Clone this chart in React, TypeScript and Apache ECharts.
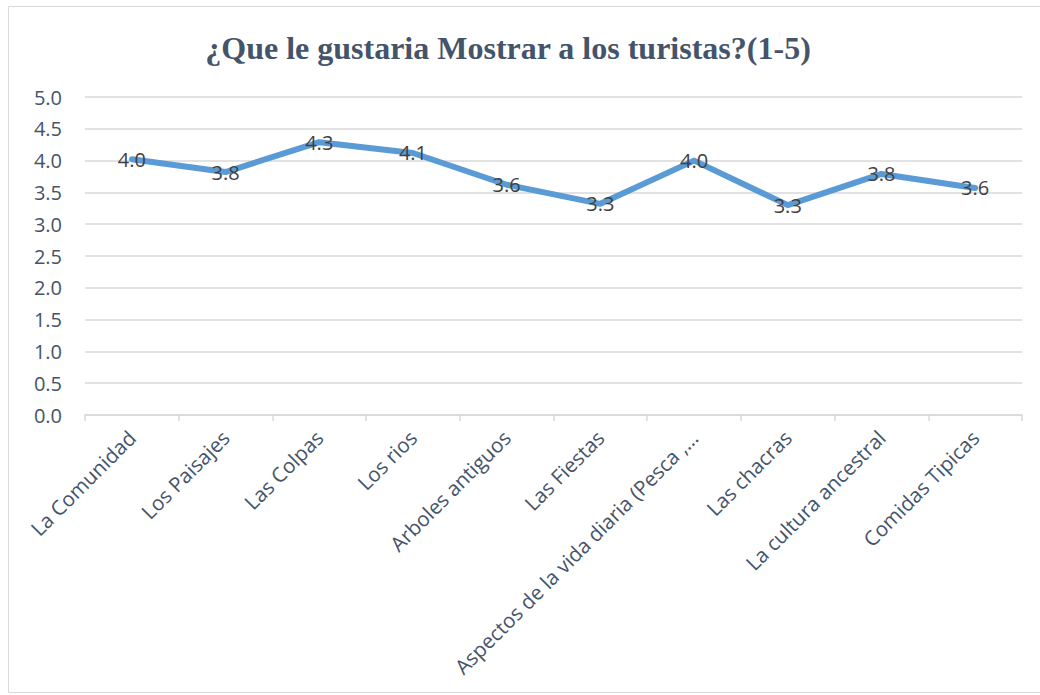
import React, { useEffect, useRef } from "react";
import * as echarts from "echarts";

const titleText = "¿Que le gustaria Mostrar a los turistas?(1-5)";
const categories = [
  "La Comunidad",
  "Los Paisajes",
  "Las Colpas",
  "Los rios",
  "Arboles antiguos",
  "Las Fiestas",
  "Aspectos de la vida diaria (Pesca ,…",
  "Las chacras",
  "La cultura ancestral",
  "Comidas Tipicas",
];
const values = [4.02, 3.82, 4.29, 4.12, 3.62, 3.32, 4.0, 3.3, 3.79, 3.57];

export default function App() {
  const ref = useRef<HTMLDivElement>(null);
  useEffect(() => {
    if (!ref.current) return;
    const chart = echarts.init(ref.current, null, { renderer: "svg" });
    chart.setOption({
      animation: false,
      backgroundColor: "#ffffff",
      title: {
        text: titleText,
        left: 503,
        textAlign: "center",
        top: 27,
        textStyle: {
          fontFamily: "Liberation Serif",
          fontWeight: "bold",
          fontSize: 32,
          color: "#44546A",
        },
      },
      graphic: [
        {
          type: "rect",
          shape: { x: 8.5, y: 6.5, width: 1040, height: 686 },
          style: { fill: "none", stroke: "#D9D9D9", lineWidth: 1 },
          silent: true,
        },
      ],
      grid: { left: 85, right: 18, top: 97, bottom: 280 },
      xAxis: {
        type: "category",
        data: categories,
        boundaryGap: true,
        axisLine: { lineStyle: { color: "#D9D9D9", width: 1.5 } },
        axisTick: { show: true, length: 6, lineStyle: { color: "#D9D9D9", width: 1.5 } },
        axisLabel: {
          interval: 0,
          rotate: 45,
          margin: 19,
          fontFamily: "Open Sans",
          fontSize: 20.5,
          color: "#44546A",
        },
      },
      yAxis: {
        type: "value",
        min: 0,
        max: 5,
        interval: 0.5,
        axisLine: { show: false },
        axisTick: { show: false },
        splitLine: { lineStyle: { color: "#D9D9D9", width: 1.5 } },
        axisLabel: {
          margin: 23,
          fontFamily: "Open Sans",
          fontSize: 20,
          color: "#44546A",
          formatter: (v: number) => v.toFixed(1),
        },
      },
      series: [
        {
          type: "line",
          data: values,
          symbol: "circle",
          symbolSize: 2,
          showSymbol: true,
          itemStyle: { color: "rgba(0,0,0,0)", borderWidth: 0 },
          lineStyle: { color: "#5B9BD5", width: 6, cap: "round", join: "round" },
          label: {
            show: true,
            position: "inside",
            fontFamily: "Open Sans",
            fontSize: 20,
            color: "#404040",
            formatter: (p: any) => Number(p.value).toFixed(1),
          },
        },
      ],
    });
    return () => chart.dispose();
  }, []);
  return (
    <div
      ref={ref}
      style={{ position: "fixed", left: 0, top: 0, width: 1040, height: 695 }}
    />
  );
}
